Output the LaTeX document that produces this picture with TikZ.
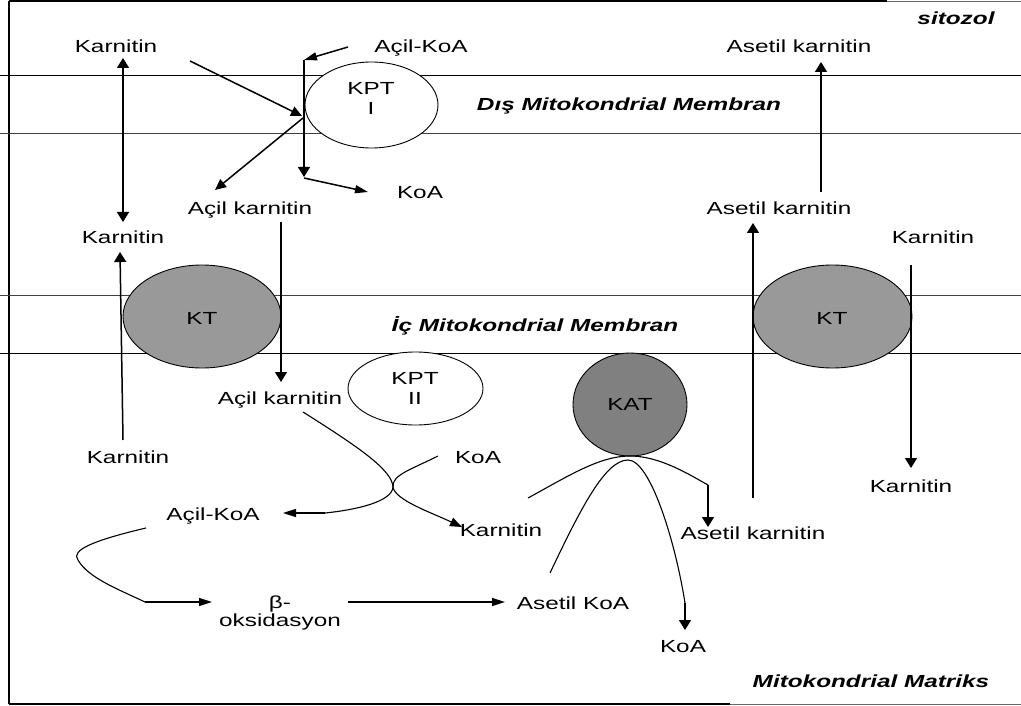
\documentclass[tikz,border=0pt]{standalone}
\usepackage{fontspec}
\setmainfont{Liberation Sans}
\usetikzlibrary{arrows.meta,shapes.geometric}
\newcommand{\sx}[1]{\scalebox{1.39}[1]{#1}}
\begin{document}
\begin{tikzpicture}[x=1pt,y=-1pt,
  lbl/.style={inner sep=0pt, text height=12.5pt, text depth=0pt, font=\fontsize{17.5}{19}\selectfont},
  ital/.style={lbl, font=\fontsize{17.5}{19}\selectfont\bfseries\itshape},
  mem/.style={line width=0.9pt},
  varr/.style={line width=1.5pt, -{Triangle[length=10pt,width=12pt]}},
  harr/.style={line width=1.5pt, -{Triangle[length=13pt,width=8pt]}},
  darr/.style={line width=1.5pt, -{Triangle[length=11pt,width=10pt]}},
  crv/.style={line width=1.1pt},
  enz/.style={draw, ellipse, line width=0.9pt, inner sep=0pt},
]
\useasboundingbox (0,0) rectangle (1021,706);

% frame
\draw[line width=2pt] (9,1.5) -- (887,1.5);
\draw[line width=1pt, black!60] (887,1.5) -- (1021,1.5);
\draw[line width=2pt] (9,1) -- (9,704);
\draw[line width=2pt] (9,704) -- (730,704);
\draw[line width=1pt, black!60] (730,704) -- (1021,704);

% membranes
\draw[mem] (0,75) -- (1021,75);
\draw[mem, black!75] (0,133) -- (1021,133);
\draw[mem, black!75] (0,295) -- (1021,295);
\draw[mem] (0,353) -- (1021,353);

% enzymes
\node[enz, fill=white, minimum width=133pt, minimum height=86pt] (kpt1) at (371.5,105) {};
\node[enz, fill=black!40, minimum width=158pt, minimum height=103pt] (ktl) at (202,316.5) {};
\node[enz, fill=black!40, minimum width=159pt, minimum height=103pt] (ktr) at (832.5,316.5) {};
\node[enz, fill=white, minimum width=135pt, minimum height=73pt] (kpt2) at (415.5,388.5) {};
\node[enz, fill=black!50, minimum width=114pt, minimum height=103pt] (kat) at (630,404.5) {};

\node[lbl] (kpt1a) at (371,88) {\sx{KPT}};
\node[lbl] (kpt1b) at (371,108) {\sx{I}};
\node[lbl] (ktlt) at (202,318) {\sx{KT}};
\node[lbl] (ktrt) at (832,318) {\sx{KT}};
\node[lbl] (kpt2a) at (415,378) {\sx{KPT}};
\node[lbl] (kpt2b) at (415,398) {\sx{II}};
\node[lbl] (katt) at (630,404) {\sx{KAT}};

% labels
\node[ital] (sito) at (956,18) {\sx{sitozol}};
\node[ital] (dis) at (629,104) {\sx{Dış Mitokondrial Membran}};
\node[ital] (ic) at (535,325) {\sx{İç Mitokondrial Membran}};
\node[ital] (matr) at (871,681) {\sx{Mitokondrial Matriks}};

\node[lbl] (karn1) at (116,46) {\sx{Karnitin}};
\node[lbl] (acilkoa1) at (421,46) {\sx{Açil-KoA}};
\node[lbl] (asetk1) at (799,46) {\sx{Asetil karnitin}};
\node[lbl] (koa1) at (420,192) {\sx{KoA}};
\node[lbl] (acilk1) at (250,208) {\sx{Açil karnitin}};
\node[lbl] (karn2) at (123,237) {\sx{Karnitin}};
\node[lbl] (asetk2) at (779,208) {\sx{Asetil karnitin}};
\node[lbl] (karn3) at (933,237) {\sx{Karnitin}};
\node[lbl] (acilk2) at (280,398) {\sx{Açil karnitin}};
\node[lbl] (karn4) at (128,457) {\sx{Karnitin}};
\node[lbl] (koa2) at (478,457) {\sx{KoA}};
\node[lbl] (karn5) at (911,486) {\sx{Karnitin}};
\node[lbl] (acilkoa2) at (213,514) {\sx{Açil-KoA}};
\node[lbl] (karn6) at (501,530) {\sx{Karnitin}};
\node[lbl] (asetk3) at (753,533) {\sx{Asetil karnitin}};
\node[lbl] (beta) at (280,602) {\sx{β-}};
\node[lbl] (oks) at (280,620) {\sx{oksidasyon}};
\node[lbl] (asetkoa) at (573,603) {\sx{Asetil KoA}};
\node[lbl] (koa3) at (683,646) {\sx{KoA}};

% connector points
\coordinate (p1a) at (123,58);   \coordinate (p1b) at (123,222);
\coordinate (p2a) at (190,61);   \coordinate (p2b) at (302,116);
\coordinate (p3a) at (348,47);   \coordinate (p3b) at (304,60);
\coordinate (p4b) at (304,177);
\coordinate (p5a) at (304,178);  \coordinate (p5b) at (368,192);
\coordinate (p6a) at (303,118);  \coordinate (p6b) at (215,190);
\coordinate (p7a) at (123,440);  \coordinate (p7b) at (120,252);
\coordinate (p8a) at (281,222);  \coordinate (p8b) at (281,382);
\coordinate (p9a) at (753,498);  \coordinate (p9b) at (753,223);
\coordinate (p10a) at (821,192); \coordinate (p10b) at (821,62);
\coordinate (p11a) at (911,265); \coordinate (p11b) at (911,468);
\coordinate (x0) at (393,487);
\coordinate (c1a) at (303,412);  \coordinate (c1b) at (462,527);
\coordinate (c2a) at (438,456);  \coordinate (c2m) at (325,513); \coordinate (c2b) at (283,513);
\coordinate (b1) at (146,528);   \coordinate (b2) at (78,560); \coordinate (b3) at (145,602); \coordinate (b4) at (212,602);
\coordinate (o1) at (348,602);   \coordinate (o2) at (505,602);
\coordinate (ka1) at (528,498);  \coordinate (ka2) at (630,456); \coordinate (ka3) at (708,485); \coordinate (ka4) at (708,527);
\coordinate (kb1) at (550,573);  \coordinate (kb2) at (628,460); \coordinate (kb3) at (685,603); \coordinate (kb4) at (685,630);

% outer membrane
\draw[line width=1.5pt, {Triangle[length=10pt,width=12pt]}-{Triangle[length=10pt,width=12pt]}] (p1a) -- (p1b);
\draw[darr] (p2a) -- (p2b);
\draw[harr] (p3a) -- (p3b);
\draw[varr] (p3b) -- (p4b);
\draw[harr] (p5a) -- (p5b);
\draw[darr] (p6a) -- (p6b);

% inner membrane
\draw[varr] (p7a) -- (p7b);
\draw[varr] (p8a) -- (p8b);
\draw[varr] (p9a) -- (p9b);
\draw[varr] (p10a) -- (p10b);
\draw[varr] (p11a) -- (p11b);

% KPT II reaction
\draw[crv, -{Triangle[length=12pt,width=9pt]}] (c1a) .. controls (360,448) and (392,470) .. (x0) .. controls (395,500) and (430,512) .. (c1b);
\draw[crv] (c2a) .. controls (410,470) and (392,475) .. (x0) .. controls (392,502) and (355,510) .. (c2m);
\draw[harr] (c2m) -- (c2b);

% beta oxidation
\draw[crv] (b1) .. controls (95,540) and (70,550) .. (b2) .. controls (88,578) and (120,590) .. (b3);
\draw[harr] (b3) -- (b4);
\draw[harr] (o1) -- (o2);

% KAT reaction
\draw[crv] (ka1) .. controls (570,475) and (600,456) .. (ka2) .. controls (660,456) and (690,475) .. (ka3);
\draw[varr] (ka3) -- (ka4);
\draw[crv] (kb1) .. controls (580,510) and (605,460) .. (kb2) .. controls (650,460) and (675,540) .. (kb3);
\draw[varr] (kb3) -- (kb4);
\end{tikzpicture}
\end{document}
